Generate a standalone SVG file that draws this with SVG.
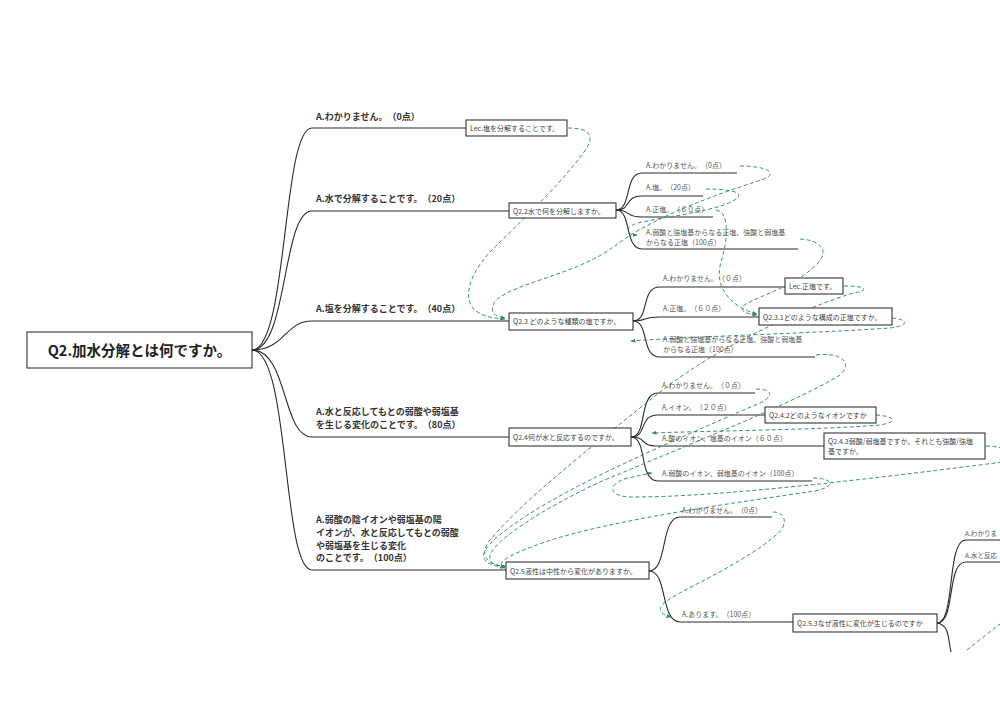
<svg xmlns="http://www.w3.org/2000/svg" width="1000" height="716" viewBox="0 0 1000 716">
<style>
text{font-family:"Noto Sans CJK JP","Noto Sans",sans-serif;text-spacing-trim:space-all;font-feature-settings:"chws" 0;}
.root{font-size:14.5px;font-weight:bold;fill:#222;}
.l1{font-size:9px;font-weight:bold;fill:#333;}
.l2{font-size:7px;fill:#555;}
.bt{font-size:7px;fill:#444;}
.box{fill:#fff;stroke:#333;stroke-width:1.1;}
.br{fill:none;stroke:#2a2a2a;stroke-width:1.1;}
.rel{fill:none;stroke:#3a9475;stroke-width:1;stroke-dasharray:4 2.5;}
</style>
<defs>
<marker id="ah" viewBox="0 0 10 10" refX="9" refY="5" markerWidth="5" markerHeight="5" orient="auto"><path d="M0,1 L10,5 L0,9 z" fill="#2e8b6a"/></marker>
</defs>
<rect width="1000" height="716" fill="#fff"/>
<g id="connectors">
<path class="br" d="M252,350 C 288,350 282,128 312,128 H466"/>
<path class="br" d="M252,350 C 288,350 282,211 312,211 H509"/>
<path class="br" d="M252,350 C 285,350 285,321 312,321 H509"/>
<path class="br" d="M252,350 C 288,350 282,437 312,437 H509"/>
<path class="br" d="M252,350 C 290,350 282,570 312,570 H506"/>
<path class="br" d="M616,210 C 632,210 624,173 642,173 H737"/>
<path class="br" d="M616,210 C 632,210 624,196 642,196 H703"/>
<path class="br" d="M616,210 C 632,210 624,217 642,217 H713"/>
<path class="br" d="M616,210 C 632,210 624,249 642,249 H798"/>
<path class="br" d="M633,321 C 650,321 640,287 660,287 H785"/>
<path class="br" d="M633,321 C 650,321 640,317 660,317 H759"/>
<path class="br" d="M633,321 C 650,321 640,357 660,357 H815"/>
<path class="br" d="M631,437 C 648,437 638,393 658,393 H755"/>
<path class="br" d="M631,437 C 648,437 638,415 658,415 H765"/>
<path class="br" d="M631,437 C 648,437 638,446 658,446 H824"/>
<path class="br" d="M631,437 C 648,437 638,481 658,481 H812"/>
<path class="br" d="M649,571 C 668,571 660,517 680,517 H772"/>
<path class="br" d="M649,571 C 668,571 660,622 680,622 H793"/>
<path class="br" d="M937,623 C 956,623 946,540 966,540 H1000"/>
<path class="br" d="M937,623 C 956,623 946,562 966,562 H1000"/>
<path class="br" d="M937,623 C 950,625 948,640 951,652"/>
<g id="relations">
<path class="rel" marker-end="url(#ah)" d="M568,128 C 590,128 596,136 584,152 C 560,185 520,222 490,252 C 468,276 462,300 476,311 C 486,318 496,318 505,319"/>
<path class="rel" marker-end="url(#ah)" d="M740,166 C 768,166 782,174 758,181 C 715,195 650,218 612,248 C 575,275 505,285 494,303 C 489,313 496,317 505,318"/>
<path class="rel" marker-end="url(#ah)" d="M706,189 C 732,189 748,193 733,201 C 712,212 668,216 638,223 C 622,228 626,235 637,235"/>
<path class="rel" marker-end="url(#ah)" d="M716,210 C 730,212 728,240 721,262 C 714,285 728,306 757,314"/>
<path class="rel" marker-end="url(#ah)" d="M800,239 C 822,240 830,252 816,265 C 796,285 762,295 746,304 C 737,310 745,314 757,315"/>
<path class="rel" marker-end="url(#ah)" d="M844,286 C 866,286 872,290 850,294 C 800,310 720,345 660,392 C 600,440 525,498 490,540 C 478,555 488,565 505,567"/>
<path class="rel" marker-end="url(#ah)" d="M892,318 C 906,319 912,325 890,328 C 820,333 700,336 631,341"/>
<path class="rel" marker-end="url(#ah)" d="M816,355 C 840,352 854,362 840,375 C 800,400 700,440 600,482 C 540,510 492,542 490,556 C 489,564 497,566 505,566"/>
<path class="rel" marker-end="url(#ah)" d="M756,389 C 772,389 775,396 760,403 C 720,420 640,455 590,480 C 530,510 478,545 484,558 C 487,565 497,567 505,567"/>
<path class="rel" marker-end="url(#ah)" d="M986,446 C 1010,446 1030,460 995,463 C 900,475 720,498 628,497 C 606,495 610,482 628,478 C 638,476 645,474 652,473"/>
<path class="rel" marker-end="url(#ah)" d="M813,478 C 832,478 838,486 815,491 C 740,502 610,520 545,542 C 505,556 494,564 505,568"/>
<path class="rel" marker-end="url(#ah)" d="M773,512 C 786,512 789,525 776,535 C 742,565 680,590 664,603 C 656,610 662,615 671,617"/>
<path class="rel" marker-end="url(#ah)" d="M876,415 C 892,416 902,421 880,425 C 820,430 700,431 652,433"/>
<path class="rel" d="M967,650 C 978,641 990,632 1000,624"/>
</g>
</g>
<g id="root">
<rect class="box" x="27" y="332" width="225" height="36" stroke-width="1.4"/>
<text class="root" x="139.5" y="356" text-anchor="middle">Q2.加水分解とは何ですか。</text>
</g>
<g id="a1"><text class="l1" x="316" y="120">A.わかりません。（0点）</text></g>
<g id="a2"><text class="l1" x="316" y="202">A.水で分解することです。（20点）</text></g>
<g id="a3"><text class="l1" x="316" y="312">A.塩を分解することです。（40点）</text></g>
<g id="a4"><text class="l1" x="316" y="415">A.水と反応してもとの弱酸や弱塩基</text><text class="l1" x="316" y="428">を生じる変化のことです。（80点）</text></g>
<g id="a5"><text class="l1" x="316" y="523">A.弱酸の陰イオンや弱塩基の陽</text><text class="l1" x="316" y="536">イオンが、水と反応してもとの弱酸</text><text class="l1" x="316" y="549">や弱塩基を生じる変化</text><text class="l1" x="316" y="561">のことです。（100点）</text></g>
<g id="lec1"><rect class="box" x="466" y="120" width="101" height="16"/><text class="bt" x="470" y="131">Lec.塩を分解することです。</text></g>
<g id="q22"><rect class="box" x="509" y="203" width="107" height="15"/><text class="bt" x="513" y="213.5">Q2.2水で何を分解しますか。</text></g>
<g id="q22a1"><text class="l2" x="646" y="168">A.わかりません。（0点）</text></g>
<g id="q22a2"><text class="l2" x="646" y="190">A.塩。（20点）</text></g>
<g id="q22a3"><text class="l2" x="646" y="212">A.正塩。（６０点）</text></g>
<g id="q22a4"><text class="l2" x="646" y="235">A.弱酸と強塩基からなる正塩、強酸と弱塩基</text><text class="l2" x="646" y="245">からなる正塩（100点）</text></g>
<g id="q23"><rect class="box" x="509" y="313" width="124" height="17"/><text class="bt" x="513" y="324">Q2.3 どのような種類の塩ですか。</text></g>
<g id="q23a1"><text class="l2" x="663" y="281">A.わかりません。（０点）</text></g>
<g id="lec2"><rect class="box" x="785" y="278" width="58" height="16"/><text class="bt" x="789" y="289">Lec.正塩です。</text></g>
<g id="q23a2"><text class="l2" x="663" y="311">A.正塩。（６０点）</text></g>
<g id="q231"><rect class="box" x="759" y="308" width="133" height="17"/><text class="bt" x="763" y="319.5">Q2.3.1どのような構成の正塩ですか。</text></g>
<g id="q23a3"><text class="l2" x="663" y="342">A.弱酸と強塩基からなる正塩、強酸と弱塩基</text><text class="l2" x="663" y="352">からなる正塩（100点）</text></g>
<g id="q24"><rect class="box" x="509" y="428" width="122" height="18"/><text class="bt" x="513" y="440">Q2.4何が水と反応するのですか。</text></g>
<g id="q24a1"><text class="l2" x="662" y="388">A.わかりません。（０点）</text></g>
<g id="q24a2"><text class="l2" x="662" y="410">A.イオン。（２０点）</text></g>
<g id="q242"><rect class="box" x="765" y="407" width="111" height="16"/><text class="bt" x="769" y="418">Q2.4.2どのようなイオンですか</text></g>
<g id="q24a3"><text class="l2" x="662" y="441">A.酸のイオン、塩基のイオン（６０点）</text></g>
<g id="q243"><rect class="box" x="824" y="433" width="161" height="26"/><text class="bt" x="828" y="444">Q2.4.3弱酸/弱塩基ですか。それとも強酸/強塩</text><text class="bt" x="828" y="454">基ですか。</text></g>
<g id="q24a4"><text class="l2" x="662" y="476">A.弱酸のイオン、弱塩基のイオン（100点）</text></g>
<g id="q25"><rect class="box" x="506" y="562" width="143" height="17"/><text class="bt" x="510" y="573.5">Q2.5液性は中性から変化がありますか。</text></g>
<g id="q25a1"><text class="l2" x="682" y="513">A.わかりません。（0点）</text></g>
<g id="q25a2"><text class="l2" x="682" y="617">A.あります。（100点）</text></g>
<g id="q253"><rect class="box" x="793" y="614" width="144" height="18"/><text class="bt" x="797" y="626">Q2.5.3なぜ液性に変化が生じるのですか</text></g>
<g id="q253a1"><text class="l2" x="965" y="536" style="font-size:6.6px">A.わかりま</text></g>
<g id="q253a2"><text class="l2" x="965" y="558" style="font-size:6.6px">A.水と反応</text></g>
</svg>
